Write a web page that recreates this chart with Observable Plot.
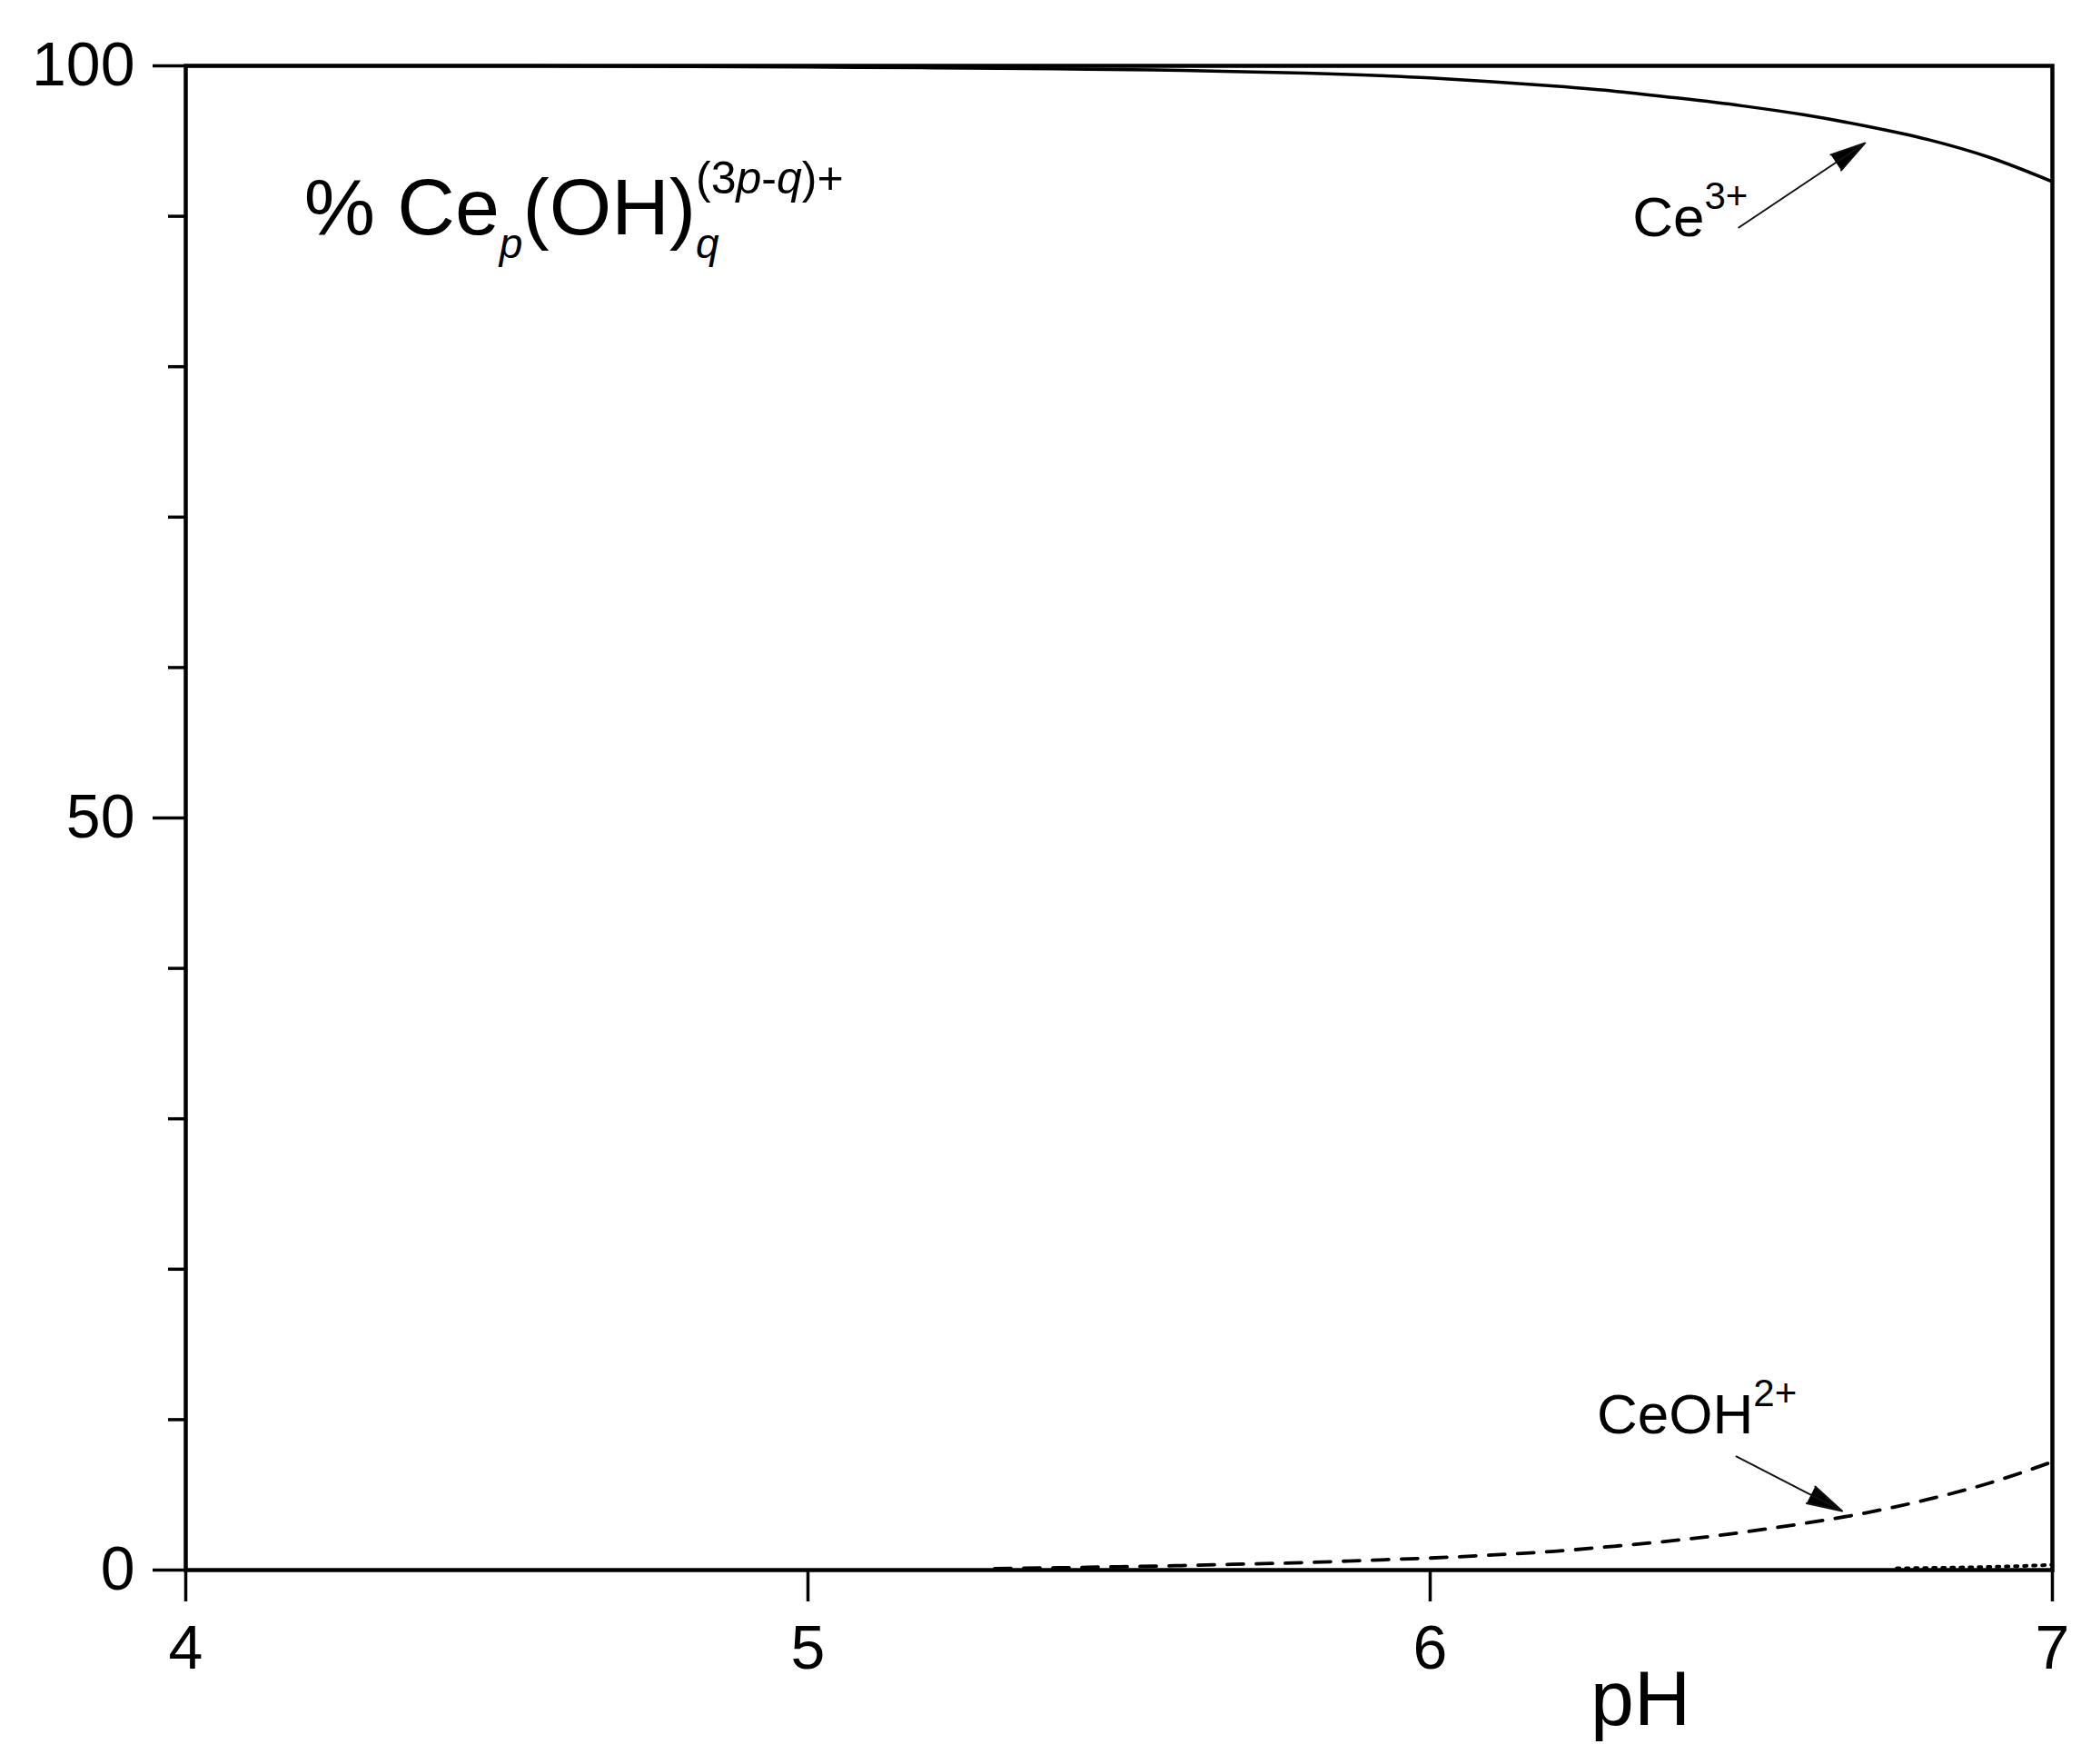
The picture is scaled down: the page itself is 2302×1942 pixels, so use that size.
<!DOCTYPE html>
<html>
<head>
<meta charset="utf-8">
<script src="https://cdn.jsdelivr.net/npm/d3@7"></script>
<script src="https://cdn.jsdelivr.net/npm/@observablehq/plot@0.6"></script>
<style>
  html, body { margin: 0; padding: 0; background: #fff; }
</style>
</head>
<body>
<div id="chart"></div>
<script>
// ---- Data ----
const ce3PH  = [4.0, 4.5, 5.0, 5.2, 5.4, 5.6, 5.8, 6.0, 6.1, 6.2, 6.3, 6.4, 6.5, 6.6, 6.7, 6.8, 6.9, 7.0];
const ce3Val = [100, 100, 99.92, 99.87, 99.8, 99.7, 99.52, 99.2, 98.95, 98.65, 98.3, 97.85, 97.35, 96.75, 96.0, 95.1, 93.9, 92.3];

const ceohPH  = [5.3, 5.4, 5.5, 5.6, 5.7, 5.8, 5.9, 6.0, 6.1, 6.2, 6.3, 6.4, 6.5, 6.6, 6.7, 6.8, 6.9, 7.0];
const ceohVal = [0.1, 0.15, 0.22, 0.3, 0.4, 0.5, 0.65, 0.8, 1.0, 1.25, 1.6, 2.0, 2.5, 3.1, 3.8, 4.7, 5.8, 7.2];

const minorPH  = [6.75, 6.8, 6.85, 6.9, 6.95, 7.0];
const minorVal = [0.12, 0.14, 0.17, 0.21, 0.27, 0.35];

const xTicks = [4, 5, 6, 7];
const yTicks = [0, 50, 100];
const yMinorTicks = [10, 20, 30, 40, 60, 70, 80, 90];

// annotation labels (in data units: pH, %)
const labelText = ["% Cep(OH)q(3p-q)+", "Ce3+", "CeOH2+", "pH"];
const labelX    = [4.19, 6.325, 6.268, 6.338];
const labelY    = [88.8, 88.65, 9.06, -10.3];
const labelSize = [88, 62, 62, 86];
const labelAnchor = ["start", "start", "start", "middle"];

// arrows (data units)
const arrowX1 = [6.496, 6.492];
const arrowY1 = [89.25, 7.55];
const arrowX2 = [6.699, 6.662];
const arrowY2 = [94.87, 3.93];

// ---- build tables ----
const ce3 = ce3PH.map((x, i) => ({x, y: ce3Val[i]}));
const ceoh = ceohPH.map((x, i) => ({x, y: ceohVal[i]}));
const minor = minorPH.map((x, i) => ({x, y: minorVal[i]}));
const labels = labelText.map((t, i) => ({t, x: labelX[i], y: labelY[i], s: labelSize[i], a: labelAnchor[i]}));
const arrows = arrowX1.map((x1, i) => ({x1, y1: arrowY1[i], x2: arrowX2[i], y2: arrowY2[i]}));

const font = "'Liberation Sans', Arial, Helvetica, sans-serif";

const chart = Plot.plot({
  width: 2302,
  height: 1942,
  marginLeft: 204,
  marginRight: 43,
  marginTop: 72,
  marginBottom: 214,
  style: {fontFamily: font, background: "#fff", color: "#000"},
  x: {domain: [4, 7], label: null},
  y: {domain: [0, 100], label: null},
  marks: [
    Plot.axisY({ticks: yMinorTicks, tickSize: 19, tickFormat: () => "", strokeWidth: 3.5, label: null}),
    Plot.axisY({ticks: yTicks, tickSize: 36, tickPadding: 20, fontSize: 68, strokeWidth: 3.5, tickFormat: d3.format("d"), label: null}),
    Plot.axisX({ticks: xTicks, tickSize: 35, tickPadding: 25, fontSize: 68, strokeWidth: 3.5, tickFormat: d3.format("d"), label: null}),
    Plot.line(ce3, {x: "x", y: "y", stroke: "#000", strokeWidth: 3.5, curve: "monotone-x"}),
    Plot.line(ceoh, {x: "x", y: "y", stroke: "#000", strokeWidth: 3.8, strokeDasharray: "18,14", curve: "monotone-x"}),
    Plot.line(minor, {x: "x", y: "y", stroke: "#000", strokeWidth: 4, strokeDasharray: "3,7", curve: "monotone-x"}),
    Plot.frame({stroke: "#000", strokeWidth: 4.5}),
    Plot.arrow(arrows, {x1: "x1", y1: "y1", x2: "x2", y2: "y2", stroke: "#111", strokeWidth: 2, headLength: 30, headAngle: 30}),
    Plot.text(labels, {x: "x", y: "y", text: "t", fontSize: "s", textAnchor: "start", lineAnchor: "bottom", fill: "#000", filter: d => d.a === "start"}),
    Plot.text(labels, {x: "x", y: "y", text: "t", fontSize: 86, textAnchor: "middle", lineAnchor: "bottom", fill: "#000", filter: d => d.a === "middle"})
  ]
});

document.getElementById("chart").append(chart);

// fill arrow heads
d3.select(chart).selectAll("g[aria-label='arrow'] path").attr("fill", "#000").attr("stroke-linejoin", "miter");

// rich text (sub/superscripts)
const richSpecs = {
  "% Cep(OH)q(3p-q)+": [
    {t: "% Ce"},
    {t: "p", size: 46, italic: true, shift: 26},
    {t: "(OH)"},
    {t: "q", size: 46, italic: true, shift: 26},
    {t: "(3", size: 50, shift: -45, backOver: 3},
    {t: "p", size: 50, italic: true, shift: -45},
    {t: "-", size: 50, shift: -45},
    {t: "q", size: 50, italic: true, shift: -45},
    {t: ")+", size: 50, shift: -45}
  ],
  "Ce3+": [
    {t: "Ce"},
    {t: "3+", size: 42, shift: -30}
  ],
  "CeOH2+": [
    {t: "CeOH"},
    {t: "2+", size: 42, shift: -30}
  ]
};

d3.select(chart).selectAll("text").each(function() {
  const spec = richSpecs[this.textContent];
  if (!spec) return;
  const sel = d3.select(this);
  sel.text(null);
  let shift = 0;
  const nodes = [];
  for (const p of spec) {
    const ts = sel.append("tspan").text(p.t);
    if (p.size) ts.attr("font-size", p.size);
    if (p.italic) ts.attr("font-style", "italic");
    const s = p.shift || 0;
    if (s !== shift) ts.attr("dy", s - shift);
    shift = s;
    if (p.backOver !== undefined) {
      const w = nodes[p.backOver].getComputedTextLength();
      ts.attr("dx", -w);
    }
    nodes.push(ts.node());
  }
});
</script>
</body>
</html>
